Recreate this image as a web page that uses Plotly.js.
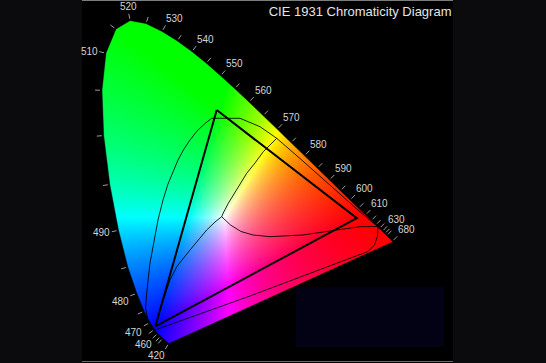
<!DOCTYPE html>
<html><head><meta charset="utf-8">
<script src="https://cdn.plot.ly/plotly-3.0.1.min.js"></script>
<style>html,body{margin:0;padding:0;background:#0b0a0d;overflow:hidden}#chart{width:546px;height:363px}</style>
</head><body><div id="chart"></div>
<script>
// ---- data ----
const wavelengths = [380,385,390,395,400,405,410,415,420,425,430,435,440,445,450,455,460,465,470,475,480,485,490,495,500,505,510,515,520,525,530,535,540,545,550,555,560,565,570,575,580,585,590,595,600,605,610,615,620,625,630,635,640,645,650,655,660,665,670,675,680,685,690,695,700];
const locusX = [0.1741,0.1740,0.1738,0.1736,0.1733,0.1730,0.1726,0.1721,0.1714,0.1703,0.1689,0.1669,0.1644,0.1611,0.1566,0.1510,0.1440,0.1355,0.1241,0.1096,0.0913,0.0687,0.0454,0.0235,0.0082,0.0039,0.0139,0.0389,0.0743,0.1142,0.1547,0.1929,0.2296,0.2658,0.3016,0.3373,0.3731,0.4087,0.4441,0.4788,0.5125,0.5448,0.5752,0.6029,0.6270,0.6482,0.6658,0.6801,0.6915,0.7006,0.7079,0.7140,0.7190,0.7230,0.7260,0.7283,0.7300,0.7311,0.7320,0.7327,0.7334,0.7340,0.7344,0.7346,0.7347];
const locusY = [0.0050,0.0050,0.0049,0.0049,0.0048,0.0048,0.0048,0.0048,0.0051,0.0058,0.0069,0.0086,0.0109,0.0138,0.0177,0.0227,0.0297,0.0399,0.0578,0.0868,0.1327,0.2007,0.2950,0.4127,0.5384,0.6548,0.7502,0.8120,0.8338,0.8262,0.8059,0.7816,0.7543,0.7243,0.6923,0.6589,0.6245,0.5896,0.5547,0.5202,0.4866,0.4544,0.4242,0.3965,0.3725,0.3514,0.3340,0.3197,0.3083,0.2993,0.2920,0.2859,0.2809,0.2770,0.2740,0.2717,0.2700,0.2689,0.2680,0.2673,0.2666,0.2660,0.2656,0.2654,0.2653];

const tickWavelengths = [420,450,455,460,465,470,475,480,485,490,495,500,505,510,515,520,525,530,535,540,545,550,555,560,565,570,575,580,585,590,595,600,605,610,615,620,625,630,635,640,680];
const labelWavelengths = [420,460,470,480,490,510,520,530,540,550,560,570,580,590,600,610,630,680];

// thick gamut triangle
const triangleX = [0.292,0.644,0.138,0.292];
const triangleY = [0.604,0.326,0.048,0.604];

// thin gamut outline
const gamutX = [0.1369,0.1193,0.1131,0.1168,0.1244,0.1344,0.1445,0.1570,0.1696,0.1822,0.1947,0.2098,0.2249,0.2425,0.2626,0.2794,0.3505,0.4008,0.4427,0.5013,0.5515,0.6018,0.6470,0.6822,0.6972,0.6960,0.6884,0.6721,0.3756,0.1369];
const gamutY = [0.0386,0.0643,0.0951,0.1414,0.2108,0.2699,0.3213,0.3728,0.4139,0.4447,0.4756,0.5039,0.5270,0.5501,0.5694,0.5828,0.5828,0.5612,0.5314,0.4794,0.4332,0.3882,0.3470,0.3162,0.3046,0.2802,0.2571,0.2404,0.1260,0.0386];

// inner branches from the white point
const branchUpX = [0.3045,0.3085,0.3211,0.3422,0.3673,0.3882,0.4090,0.4427];
const branchUpY = [0.3298,0.3393,0.3643,0.3985,0.4414,0.4679,0.4969,0.5314];
const branchDownX = [0.3045,0.2877,0.2668,0.2450,0.2249,0.1915,0.1746,0.1621,0.1495,0.1394];
const branchDownY = [0.3298,0.3162,0.2956,0.2699,0.2442,0.2013,0.1671,0.1285,0.0900,0.0488];
const branchRightX = [0.3045,0.3266,0.3530,0.3832,0.4259,0.5088,0.5935,0.6520,0.6972];
const branchRightY = [0.3298,0.3085,0.2918,0.2828,0.2784,0.2828,0.2956,0.3041,0.3046];

const chartTitle = 'CIE 1931 Chromaticity Diagram';

// ---- layout geometry ----
const FIG_W = 546, FIG_H = 363;
const margin = {l:82, r:93, t:0, b:0};
const W = FIG_W - margin.l - margin.r, H = FIG_H - margin.t - margin.b;
const xRange = [-0.04648, 0.88568], yRange = [-0.04627, 0.88689];
const dx = (xRange[1]-xRange[0])/W, dy = (yRange[1]-yRange[0])/H;

// ---- colour field inside the spectral locus ----
function chromaRGB(x,y){
  y = Math.max(y,1e-4);
  const X=x/y, Y=1, Z=(1-x-y)/y;
  let r= 3.2406*X-1.5372*Y-0.4986*Z;
  let g=-0.9689*X+1.8758*Y+0.0415*Z;
  let b= 0.0557*X-0.2040*Y+1.0570*Z;
  r=Math.max(r,0); g=Math.max(g,0); b=Math.max(b,0);
  const m=Math.max(r,g,b)||1;
  const e=0.85;
  return [Math.round(255*Math.pow(r/m,e)),Math.round(255*Math.pow(g/m,e)),Math.round(255*Math.pow(b/m,e))];
}
const S = 4;
const cov = new Float32Array(W*H);
const nP = locusX.length;
for (let j=0;j<H;j++){
  for (let s=0;s<S;s++){
    const yv = yRange[0] + (j + (s+0.5)/S)*dy;
    const xs=[];
    for (let k=0;k<nP;k++){
      const k2=(k+1)%nP;
      const y1=locusY[k], y2=locusY[k2];
      if ((y1<=yv && y2>yv) || (y2<=yv && y1>yv)){
        const t=(yv-y1)/(y2-y1);
        xs.push(locusX[k]+t*(locusX[k2]-locusX[k]));
      }
    }
    xs.sort((a,b)=>a-b);
    for (let q=0;q+1<xs.length;q+=2){
      const a=(xs[q]-xRange[0])/dx, b=(xs[q+1]-xRange[0])/dx;
      const i0=Math.max(0,Math.floor(a)), i1=Math.min(W-1,Math.floor(b));
      for (let i=i0;i<=i1;i++){
        const ov=Math.min(b,i+1)-Math.max(a,i);
        if (ov>0) cov[j*W+i]+=ov/S;
      }
    }
  }
}
const z=[];
for (let j=0;j<H;j++){
  const row=[];
  const yc=yRange[0]+(j+0.5)*dy;
  for (let i=0;i<W;i++){
    const c=cov[j*W+i];
    if (c<=0){ row.push([0,0,0,0]); continue; }
    const xc=xRange[0]+(i+0.5)*dx;
    const rgb=chromaRGB(xc,yc);
    row.push([rgb[0],rgb[1],rgb[2],Math.min(1,c)]);
  }
  z.push(row);
}

// ---- wavelength ticks and labels (outward normals in screen px) ----
const sx = W/(xRange[1]-xRange[0]), sy = H/(yRange[1]-yRange[0]);
function normalAt(idx){
  const a=Math.max(0,idx-1), b=Math.min(nP-1,idx+1);
  const tx=(locusX[b]-locusX[a])*sx, ty=-(locusY[b]-locusY[a])*sy;
  const L=Math.hypot(tx,ty)||1;
  return [ty/L, -tx/L]; // screen coords (y down)
}
const tickX=[], tickY=[];
tickWavelengths.forEach(w=>{
  const idx=wavelengths.indexOf(w);
  const n=normalAt(idx);
  const px=locusX[idx], py=locusY[idx];
  tickX.push(px+n[0]*2/sx, px+n[0]*7/sx, null);
  tickY.push(py-n[1]*2/sy, py-n[1]*7/sy, null);
});
const annotations = labelWavelengths.map(w=>{
  const idx=wavelengths.indexOf(w);
  const n=normalAt(idx);
  const d=8.5;
  return {
    x: locusX[idx]+n[0]*d/sx, y: locusY[idx]-n[1]*d/sy,
    xref:'x', yref:'y', text:String(w), showarrow:false,
    xanchor: n[0]>0.3?'left':(n[0]<-0.3?'right':'center'),
    yanchor: n[1]>0.3?'top':(n[1]<-0.3?'bottom':'middle'),
    borderpad:0, borderwidth:0,
    font:{family:'Liberation Sans, Arial, sans-serif', size:10, color:'#d4d4d4'}
  };
});

const noHover={hoverinfo:'skip', showlegend:false};
const traces=[
  Object.assign({type:'image', z:z, x0:xRange[0]+dx/2, y0:yRange[0]+dy/2, dx:dx, dy:dy, colormodel:'rgba'},noHover),
  Object.assign({type:'scatter', mode:'lines', x:locusX.concat([locusX[0]]), y:locusY.concat([locusY[0]]), line:{color:'rgba(0,0,0,0.35)', width:1}},noHover),
  Object.assign({type:'scatter', mode:'lines', x:gamutX, y:gamutY, line:{color:'rgba(0,0,0,0.85)', width:1}},noHover),
  Object.assign({type:'scatter', mode:'lines', x:branchUpX, y:branchUpY, line:{color:'rgba(0,0,0,0.85)', width:1}},noHover),
  Object.assign({type:'scatter', mode:'lines', x:branchDownX, y:branchDownY, line:{color:'rgba(0,0,0,0.85)', width:1}},noHover),
  Object.assign({type:'scatter', mode:'lines', x:branchRightX, y:branchRightY, line:{color:'rgba(0,0,0,0.85)', width:1}},noHover),
  Object.assign({type:'scatter', mode:'lines', x:triangleX, y:triangleY, line:{color:'#000', width:2}},noHover),
  Object.assign({type:'scatter', mode:'lines', x:tickX, y:tickY, line:{color:'#9c9c9c', width:1}},noHover)
];

const layout={
  width:FIG_W, height:FIG_H, margin:margin,
  paper_bgcolor:'#0b0a0d', plot_bgcolor:'#000000',
  showlegend:false,
  title:{text:chartTitle, x:451.5/FIG_W, xanchor:'right', xref:'container', y:1-11.5/FIG_H, yanchor:'middle', yref:'container',
         font:{family:'Liberation Sans, Arial, sans-serif', size:13, color:'#e4e4e4'}},
  xaxis:{range:xRange, visible:false, showgrid:false, zeroline:false, fixedrange:true, constrain:'range'},
  yaxis:{range:yRange, visible:false, showgrid:false, zeroline:false, fixedrange:true, scaleanchor:false, constrain:'range', autorange:false},
  annotations:annotations,
  shapes:[
    {type:'rect', xref:'paper', yref:'paper', x0:(296-82)/W, x1:(444-82)/W, y0:16/H, y1:76/H, fillcolor:'#020214', line:{width:0}, layer:'below'},
    {type:'line', xref:'paper', yref:'paper', x0:0, x1:1, y0:1-0.5/H, y1:1-0.5/H, line:{color:'#7c7c7c', width:1}},
    {type:'line', xref:'paper', yref:'paper', x0:0, x1:1, y0:1.5/H, y1:1.5/H, line:{color:'#6a6a6a', width:1}}
  ]
};
Plotly.newPlot('chart', traces, layout, {staticPlot:true, displayModeBar:false});
</script></body></html>
